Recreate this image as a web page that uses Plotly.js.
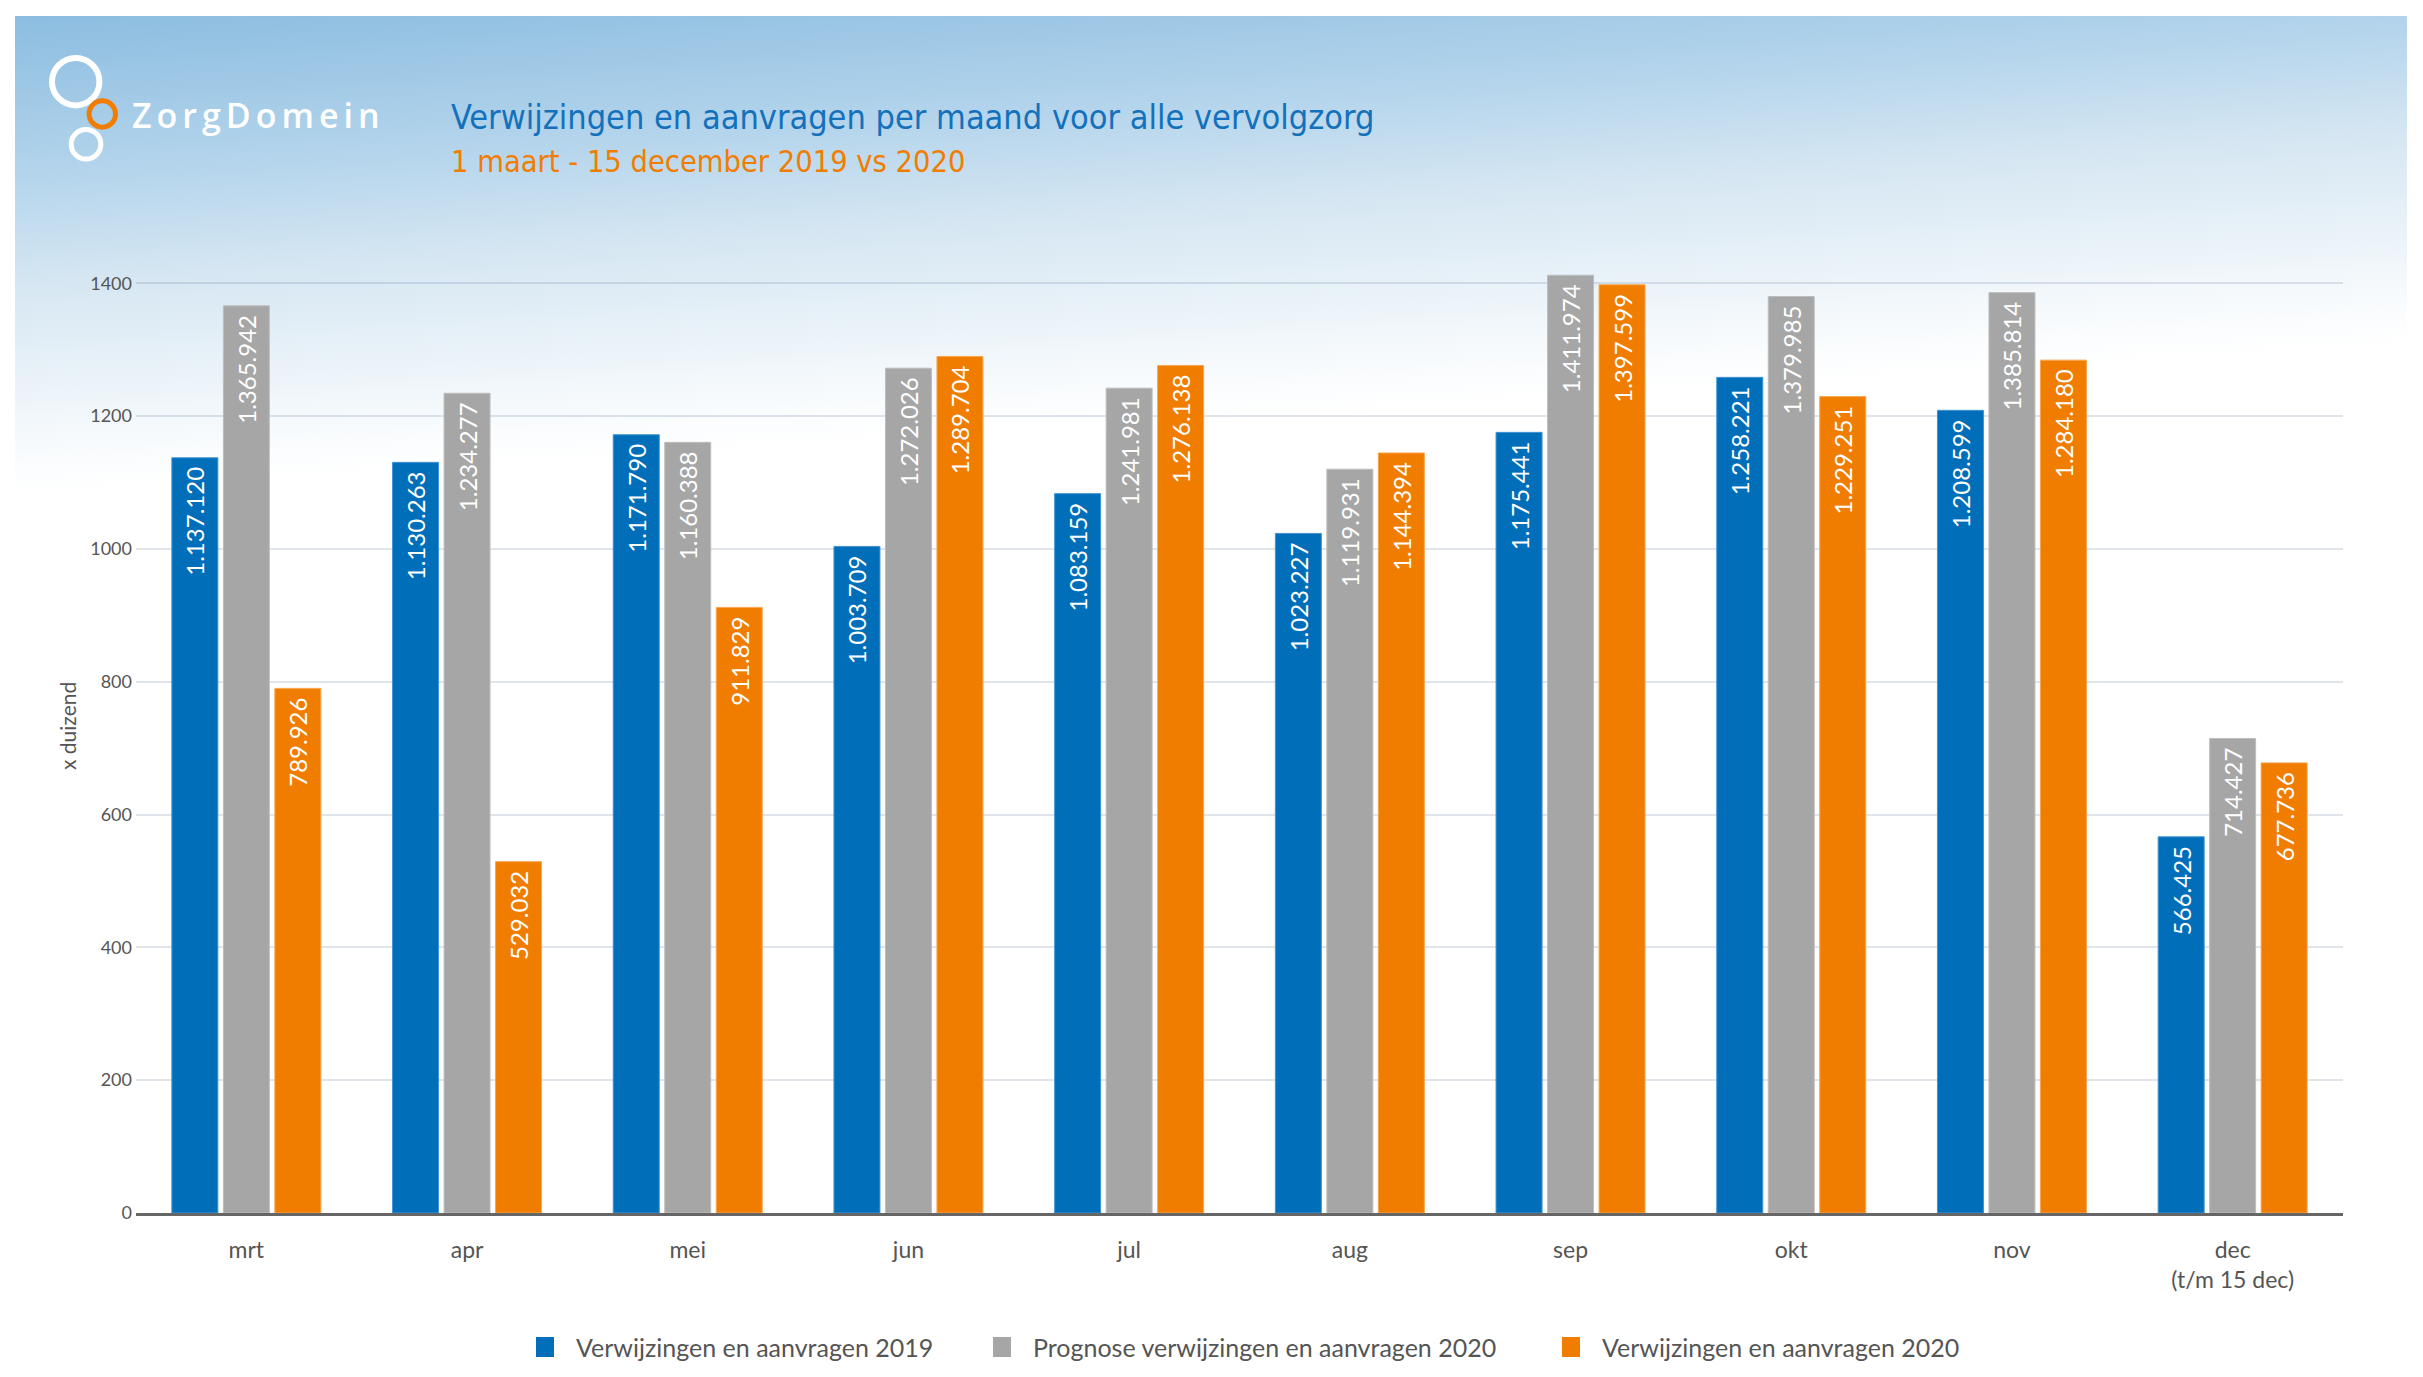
<!DOCTYPE html>
<html>
<head>
<meta charset="utf-8">
<script src="https://cdn.plot.ly/plotly-3.0.1.min.js"></script>
<style>
  html, body { margin: 0; padding: 0; background: #ffffff; }
  #wrap { position: relative; width: 2423px; height: 1377px; overflow: hidden; background: #ffffff; }
  #card { position: absolute; left: 15px; top: 16px; width: 2392px; height: 1361px;
          background-color: #ffffff;
          background-image: linear-gradient(176.4deg, #8cbde0 0%, #b5d5ec 26%, #d5e6f2 42%, #f8fbfd 69%, #ffffff 76%);
          background-size: 100% 480px; background-repeat: no-repeat; }
  #chart { position: absolute; left: 0; top: 0; width: 2423px; height: 1377px; }
  .annotation[data-index="0"] .annotation-text { letter-spacing: 5px; }
</style>
</head>
<body>
<div id="wrap">
  <div id="card"></div>
  <div id="chart"></div>
</div>
<script>
// ---- data ----
const months = ['mrt', 'apr', 'mei', 'jun', 'jul', 'aug', 'sep', 'okt', 'nov', 'dec<br>(t/m 15 dec)'];
const seriesNames = ['Verwijzingen en aanvragen 2019', 'Prognose verwijzingen en aanvragen 2020', 'Verwijzingen en aanvragen 2020'];
const verwijzingen2019 = [1137120, 1130263, 1171790, 1003709, 1083159, 1023227, 1175441, 1258221, 1208599, 566425];
const prognose2020 = [1365942, 1234277, 1160388, 1272026, 1241981, 1119931, 1411974, 1379985, 1385814, 714427];
const verwijzingen2020 = [789926, 529032, 911829, 1289704, 1276138, 1144394, 1397599, 1229251, 1284180, 677736];
const yTickVals = [0, 200000, 400000, 600000, 800000, 1000000, 1200000, 1400000];
const yTickText = ['0', '200', '400', '600', '800', '1000', '1200', '1400'];
const titleText = 'Verwijzingen en aanvragen per maand voor alle vervolgzorg';
const subtitleText = '1 maart - 15 december 2019 vs 2020';
const yAxisTitle = 'x duizend';
const logoText = 'ZorgDomein';

// ---- styles / layout constants ----
const colors = ['#006eb9', '#a6a6a6', '#f07d00'];
const edgeColors = ['#3f93d2', '#bdbdbd', '#f6a650'];
const W = 2423, H = 1377;
const ML = 136, MR = 80, MT = 250, MB = 164;
const PW = W - ML - MR, PH = H - MT - MB;
const px = x => (x - ML) / PW;
const py = y => (H - MB - y) / PH;
const labelFont = 'Lato, "Open Sans", "Noto Sans", sans-serif';
const titleFont = '"DejaVu Sans Condensed", "Liberation Sans Narrow", "Roboto", sans-serif';

const allSeries = [verwijzingen2019, prognose2020, verwijzingen2020];
const traces = allSeries.map((vals, i) => ({
  type: 'bar',
  name: seriesNames[i],
  x: months,
  y: vals,
  marker: { color: colors[i], line: { color: edgeColors[i], width: 1 } },
  texttemplate: '%{y:,}\u00a0',
  textposition: 'inside',
  insidetextanchor: 'end',
  textangle: -90,
  insidetextfont: { family: labelFont, size: 24, color: '#ffffff' },
  hoverinfo: 'skip',
  showlegend: false
}));

// legend (manual)
const legendX = [536, 993, 1562];
const legendY = 1347;
const shapes = [];
const annotations = [];

// logo (annotation index 0 gets letter-spacing)
annotations.push({
  text: logoText, xref: 'paper', yref: 'paper', x: px(155), y: py(115),
  xanchor: 'left', yanchor: 'middle', showarrow: false,
  font: { family: '"Open Sans", "Noto Sans", sans-serif', size: 34, weight: 600, color: '#ffffff' }
});
function ring(cx, cy, r, color, lw) {
  shapes.push({ type: 'circle', xref: 'paper', yref: 'paper',
    x0: px(cx - r), x1: px(cx + r), y0: py(cy + r), y1: py(cy - r),
    line: { color: color, width: lw }, fillcolor: 'rgba(0,0,0,0)', layer: 'above' });
}
ring(75.7, 81.7, 23.7, '#ffffff', 6);
ring(86, 144.3, 14.8, '#ffffff', 5);
ring(102.3, 114, 13.2, '#f07d00', 5);

// title + subtitle
annotations.push({
  text: titleText, xref: 'paper', yref: 'paper', x: px(449), y: py(117),
  xanchor: 'left', yanchor: 'middle', showarrow: false,
  font: { family: titleFont, size: 34, color: '#1371bb' }
});
annotations.push({
  text: subtitleText, xref: 'paper', yref: 'paper', x: px(449), y: py(162),
  xanchor: 'left', yanchor: 'middle', showarrow: false,
  font: { family: titleFont, size: 30.5, color: '#f07d00' }
});

// y-axis title
annotations.push({
  text: yAxisTitle, xref: 'paper', yref: 'paper', x: px(67), y: py(726),
  xanchor: 'center', yanchor: 'middle', textangle: -90, showarrow: false,
  font: { family: labelFont, size: 21, color: '#555555' }
});

seriesNames.forEach((name, i) => {
  shapes.push({ type: 'rect', xref: 'paper', yref: 'paper',
    x0: px(legendX[i]), x1: px(legendX[i] + 18), y0: py(legendY + 10), y1: py(legendY - 10),
    fillcolor: colors[i], line: { width: 0 } });
  annotations.push({
    text: name, xref: 'paper', yref: 'paper', x: px(legendX[i] + 38), y: py(legendY),
    xanchor: 'left', yanchor: 'middle', showarrow: false,
    font: { family: labelFont, size: 25, color: '#555555' }
  });
});

const layout = {
  width: W, height: H, autosize: false,
  margin: { l: ML, r: MR, t: MT, b: MB, pad: 0 },
  paper_bgcolor: 'rgba(0,0,0,0)',
  plot_bgcolor: 'rgba(0,0,0,0)',
  separators: ',.',
  barmode: 'group',
  bargap: 0.30,
  bargroupgap: 0.107,
  showlegend: false,
  xaxis: {
    type: 'category',
    showline: true, linecolor: '#666666', linewidth: 3,
    showgrid: false, zeroline: false, ticks: '',
    ticklabelstandoff: 14,
    tickfont: { family: labelFont, size: 23, color: '#555555' },
    fixedrange: true
  },
  yaxis: {
    range: [0, 1450000],
    tickmode: 'array', tickvals: yTickVals, ticktext: yTickText,
    showgrid: true, gridcolor: 'rgba(70,100,140,0.17)', gridwidth: 2,
    zeroline: false, showline: false, ticks: '',
    ticklabelstandoff: 3,
    tickfont: { family: labelFont, size: 18, color: '#555555' },
    fixedrange: true
  },
  shapes: shapes,
  annotations: annotations
};

Plotly.newPlot('chart', traces, layout, { displayModeBar: false, staticPlot: true });
</script>
</body>
</html>
